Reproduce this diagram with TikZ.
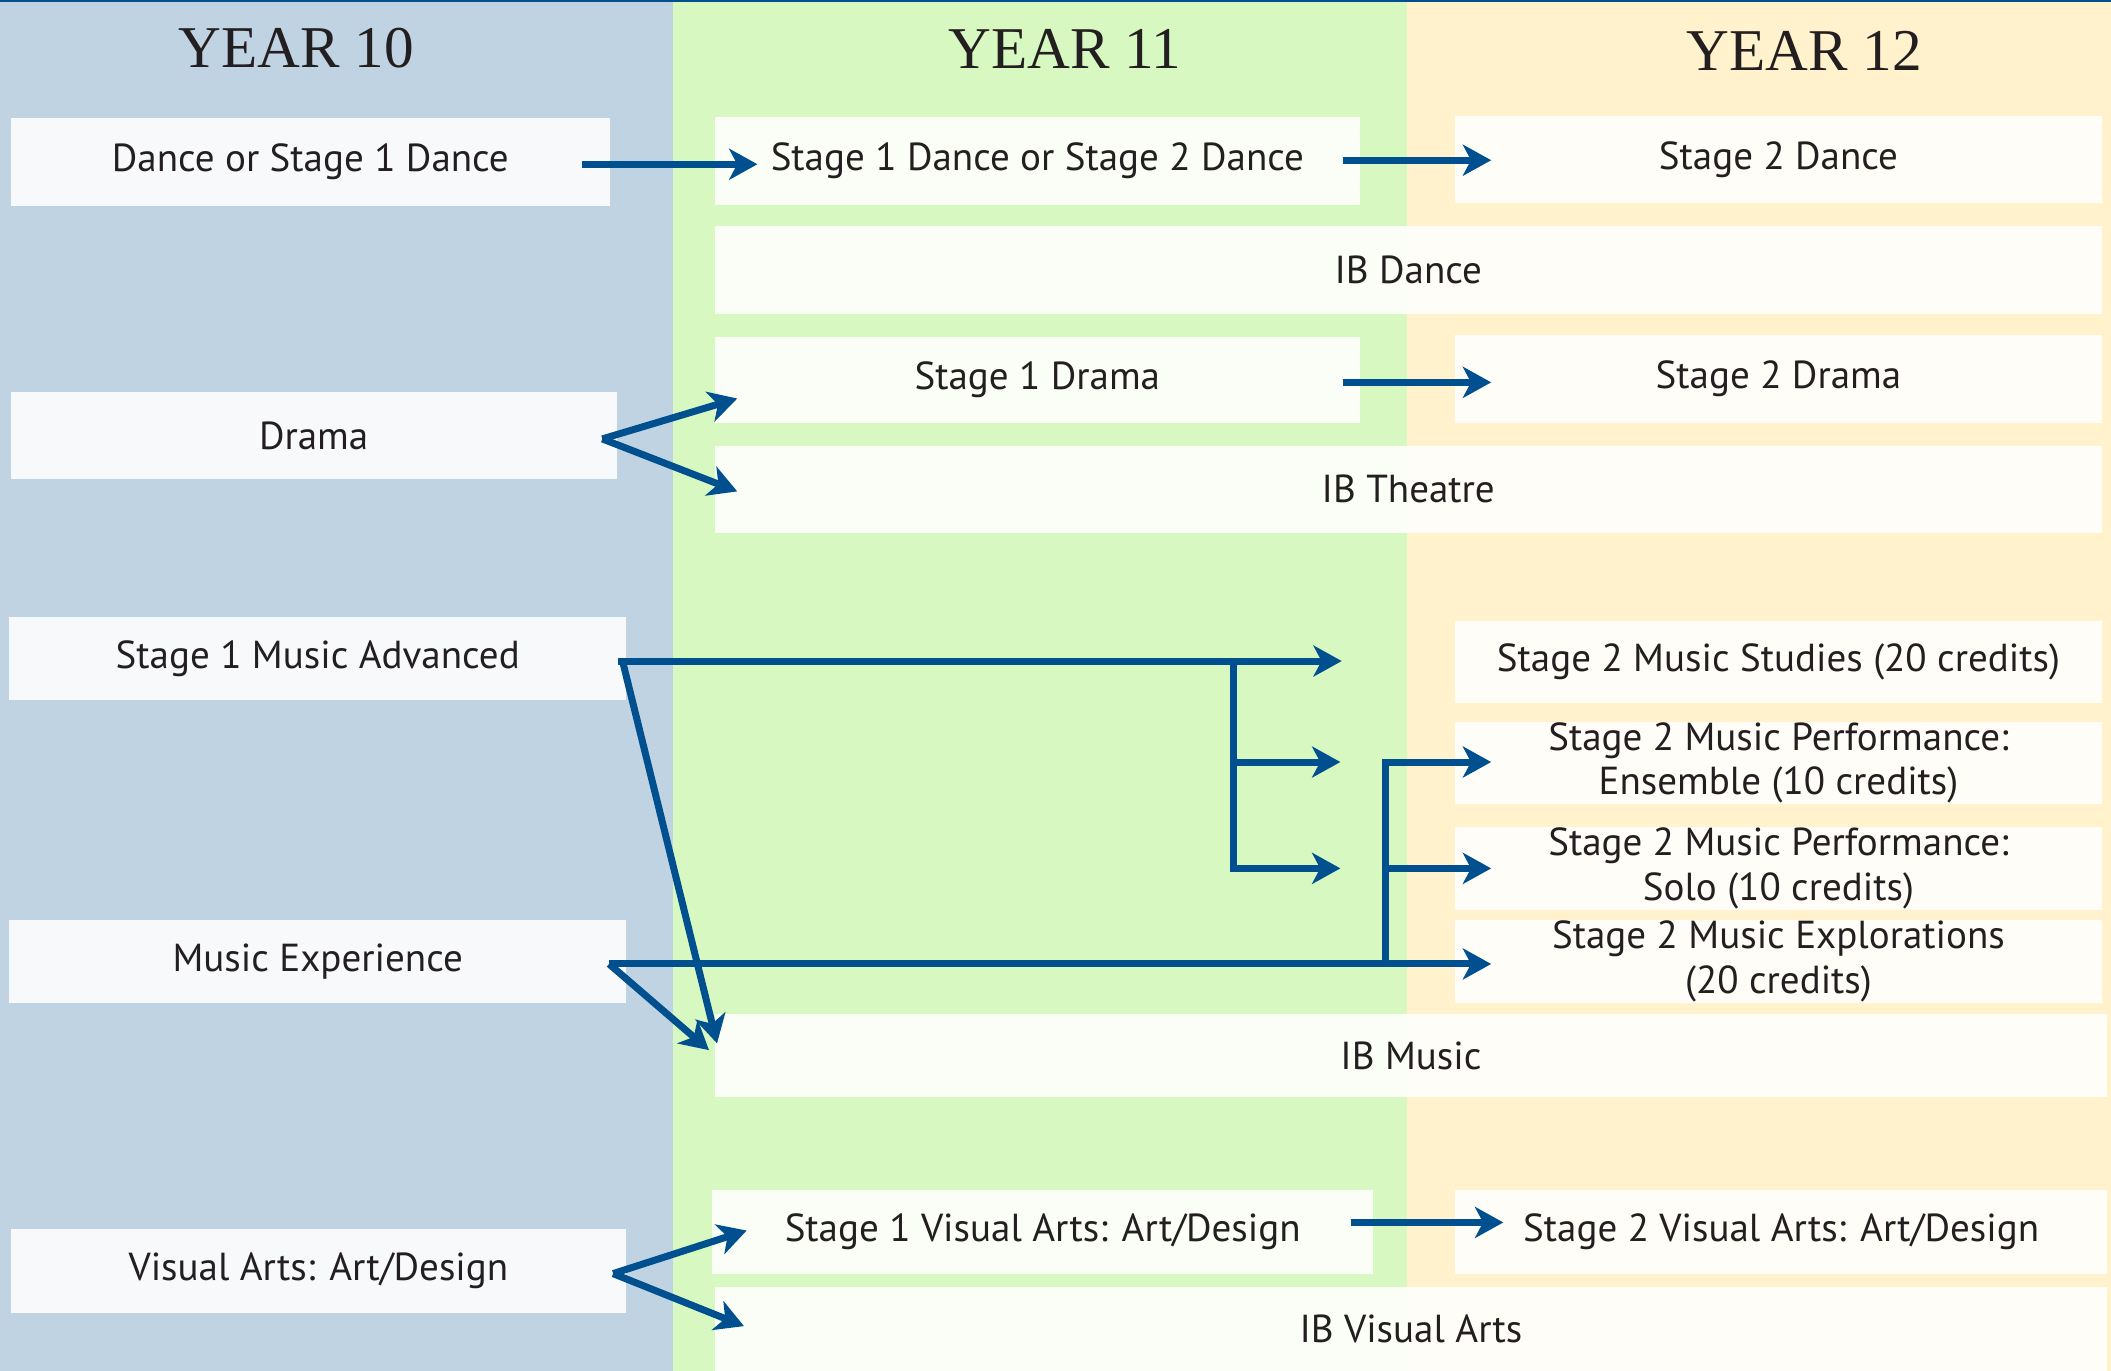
\documentclass[tikz,border=0pt]{standalone}
\usepackage{fontspec}
\setmainfont{PT Sans}
\newfontfamily\headfont{Liberation Serif}
\usetikzlibrary{arrows.meta,calc}
\definecolor{bgten}{HTML}{C0D3E2}
\definecolor{bgeleven}{HTML}{D7F8C0}
\definecolor{bgtwelve}{HTML}{FFF2CC}
\definecolor{arrowblue}{HTML}{00508F}
\definecolor{txt}{HTML}{231F20}
\tikzset{
  box/.style={rectangle, fill=white, fill opacity=0.88, text opacity=1, text=txt,
    inner sep=0pt, align=center, font=\fontsize{14.5}{16.5}\selectfont},
  yearhead/.style={anchor=base, text=txt, font=\headfont\fontsize{22}{24}\selectfont},
  arr/.style={draw=arrowblue, line width=2.6pt,
    -{Stealth[length=10.5pt, width=11.5pt, inset=3pt]}},
}
\begin{document}
\begin{tikzpicture}[x=0.5pt, y=-0.5pt]
\useasboundingbox (0,0) rectangle (1568,1018);
% columns
\fill[bgten] (0,0) rectangle (500,1018);
\fill[bgeleven] (500,0) rectangle (1045,1018);
\fill[bgtwelve] (1045,0) rectangle (1568,1018);
\draw[arrowblue, line width=0.8pt] (0,0.8) -- (1568,0.8);
% headings
\node[yearhead] (h10) at (220,50) {YEAR 10};
\node[yearhead] (h11) at (791,51) {YEAR 11};
\node[yearhead] (h12) at (1340,52) {YEAR 12};
% year 10
\node[box, minimum width=222.5pt, minimum height=32.5pt] (d10) at (230.5,120.5) {Dance or Stage 1 Dance};
\node[box, minimum width=225pt, minimum height=32.5pt] (dr10) at (233,323.5) {Drama};
\node[box, minimum width=229pt, minimum height=31pt] (m10a) at (236,489) {Stage 1 Music Advanced};
\node[box, minimum width=229pt, minimum height=31pt] (m10e) at (236,714) {Music Experience};
\node[box, minimum width=228.5pt, minimum height=31pt] (v10) at (236.5,944) {Visual Arts: Art/Design};
% year 11
\node[box, minimum width=239.5pt, minimum height=32.5pt] (d11) at (770.5,119.5) {Stage 1 Dance or Stage 2 Dance};
\node[box, minimum width=515pt, minimum height=32.5pt] (ibd) at (1046,200.5) {IB Dance};
\node[box, minimum width=239.5pt, minimum height=32pt] (dr11) at (770.5,282) {Stage 1 Drama};
\node[box, minimum width=515pt, minimum height=32.5pt] (ibt) at (1046,363.5) {IB Theatre};
\node[box, minimum width=517pt, minimum height=31pt] (ibm) at (1048,784) {IB Music};
\node[box, minimum width=245.5pt, minimum height=31pt] (v11) at (774.5,915) {Stage 1 Visual Arts: Art/Design};
\node[box, minimum width=517pt, minimum height=31pt] (ibva) at (1048,987) {IB Visual Arts};
% year 12
\node[box, minimum width=240pt, minimum height=32.5pt] (d12) at (1321,118.5) {Stage 2 Dance};
\node[box, minimum width=240pt, minimum height=32.5pt] (dr12) at (1321,281.5) {Stage 2 Drama};
\node[box, minimum width=240pt, minimum height=30.5pt] (ms) at (1321,491.5) {Stage 2 Music Studies (20 credits)};
\node[box, minimum width=240pt, minimum height=30.5pt] (mpe) at (1321,566.5) {Stage 2 Music Performance:\\Ensemble (10 credits)};
\node[box, minimum width=240pt, minimum height=31pt] (mps) at (1321,645) {Stage 2 Music Performance:\\Solo (10 credits)};
\node[box, minimum width=240pt, minimum height=31pt] (mex) at (1321,714) {Stage 2 Music Explorations\\(20 credits)};
\node[box, minimum width=242pt, minimum height=31pt] (v12) at (1323,915) {Stage 2 Visual Arts: Art/Design};
% dance
\draw[arr] ($(d10.east)+(-21,1.5)$) -- ($(d11.west)+(32,2.5)$);
\draw[arr] ($(d11.east)+(-13,-0.5)$) -- ($(d12.west)+(27,0.5)$);
% drama
\coordinate (dro) at ($(dr10.east)+(-11,2.5)$);
\draw[arr] (dro) -- ($(dr11.west)+(17,14)$);
\draw[arr] (dro) -- ($(ibt.west)+(17,1.5)$);
\draw[arr] ($(dr11.east)+(-13,2)$) -- ($(dr12.west)+(27,2.5)$);
% music advanced
\coordinate (mao) at ($(m10a.east)+(-6,2)$);
\coordinate (ta1) at ($(ms.west)+(-84,-0.5)$);
\coordinate (ta2) at ($(mpe.west)+(-85,-0.5)$);
\coordinate (ta3) at ($(mps.west)+(-85,0)$);
\coordinate (b1) at (ta1 -| 916,0);
\draw[arr] (mao) -- (ta1);
\draw[arr] (b1) |- (ta2);
\draw[arr] (b1) |- (ta3);
\draw[arr] ($(m10a.east)+(-3,2)$) -- ($(ibm.west)+(2,-9)$);
% music experience
\coordinate (meo) at ($(m10e.east)+(-13,2)$);
\coordinate (te1) at ($(mex.west)+(27,2)$);
\coordinate (te2) at ($(mpe.west)+(27,-0.5)$);
\coordinate (te3) at ($(mps.west)+(27,0)$);
\coordinate (b2) at (te1 -| 1029,0);
\draw[arr] (meo) -- (te1);
\draw[arr] (b2) |- (te2);
\draw[arr] (b2) |- (te3);
\draw[arr] (meo) -- ($(ibm.west)+(-4,-4)$);
% visual arts
\coordinate (vao) at ($(v10.east)+(-10,2)$);
\draw[arr] (vao) -- ($(v11.west)+(26,-1)$);
\draw[arr] (vao) -- ($(ibva.west)+(22,-2)$);
\draw[arr] ($(v11.east)+(-17,-7)$) -- ($(v12.west)+(36,-7)$);
\end{tikzpicture}
\end{document}
